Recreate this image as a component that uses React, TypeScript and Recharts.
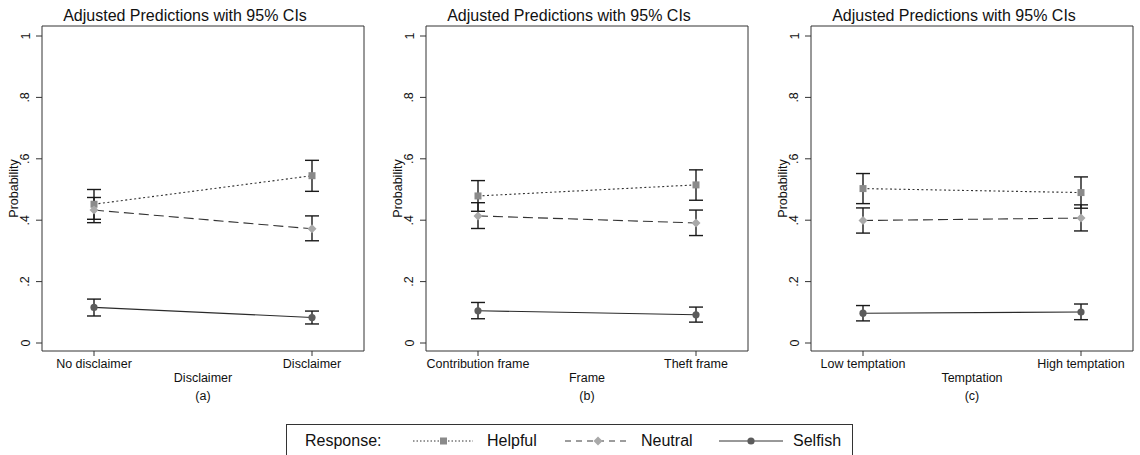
import React from "react";
import { LineChart, Line, XAxis, YAxis, ErrorBar, Label } from "recharts";

// categories per panel
const disclaimerCats = ["No disclaimer", "Disclaimer"];
const frameCats = ["Contribution frame", "Theft frame"];
const temptationCats = ["Low temptation", "High temptation"];

// panel (a): disclaimer
const aHelpful = [0.452, 0.545];
const aHelpfulCI = [[0.403, 0.5], [0.494, 0.595]];
const aNeutral = [0.433, 0.372];
const aNeutralCI = [[0.392, 0.474], [0.333, 0.414]];
const aSelfish = [0.116, 0.083];
const aSelfishCI = [[0.088, 0.143], [0.062, 0.104]];

// panel (b): frame
const bHelpful = [0.479, 0.515];
const bHelpfulCI = [[0.429, 0.529], [0.465, 0.564]];
const bNeutral = [0.414, 0.391];
const bNeutralCI = [[0.373, 0.457], [0.35, 0.433]];
const bSelfish = [0.105, 0.092];
const bSelfishCI = [[0.079, 0.132], [0.068, 0.117]];

// panel (c): temptation
const cHelpful = [0.503, 0.49];
const cHelpfulCI = [[0.454, 0.552], [0.439, 0.541]];
const cNeutral = [0.399, 0.407];
const cNeutralCI = [[0.358, 0.44], [0.365, 0.45]];
const cSelfish = [0.097, 0.101];
const cSelfishCI = [[0.072, 0.122], [0.076, 0.127]];

const yTicks = [0, 0.2, 0.4, 0.6, 0.8, 1];
const yTickLabels = ["0", ".2", ".4", ".6", ".8", "1"];

const FONT = '"Liberation Sans", Arial, Helvetica, sans-serif';
const INK = "#111";
const FRAME = "#333";
const SQ = "#8a8a8a";
const DIA = "#a9a9a9";
const CIRC = "#5c5c5c";

const err = (v: number, ci: number[]) => [v - ci[0], ci[1] - v];

function buildRows(cats: string[], h: number[], hci: number[][], n: number[], nci: number[][], s: number[], sci: number[][]) {
  return cats.map((cat, i) => ({
    cat,
    helpful: h[i],
    helpfulErr: err(h[i], hci[i]),
    neutral: n[i],
    neutralErr: err(n[i], nci[i]),
    selfish: s[i],
    selfishErr: err(s[i], sci[i]),
  }));
}

const SquareDot = (p: any) => (
  <rect key={`sq-${p.index}`} x={p.cx - 3.5} y={p.cy - 3.5} width={7} height={7} fill={SQ} />
);
const DiamondDot = (p: any) => (
  <path
    key={`di-${p.index}`}
    d={`M${p.cx},${p.cy - 4.5}L${p.cx + 4.5},${p.cy}L${p.cx},${p.cy + 4.5}L${p.cx - 4.5},${p.cy}Z`}
    fill={DIA}
  />
);
const CircleDot = (p: any) => <circle key={`ci-${p.index}`} cx={p.cx} cy={p.cy} r={3.6} fill={CIRC} />;

// rotated y tick labels, baseline sits a fixed distance left of the axis
function RotTick({ y, payload }: any) {
  const label = yTickLabels[yTicks.indexOf(payload.value)] ?? String(payload.value);
  const bx = 29.5;
  return (
    <text x={bx} y={y} transform={`rotate(-90 ${bx} ${y})`} textAnchor="middle" fontSize={12.5} fill={INK} fontFamily={FONT}>
      {label}
    </text>
  );
}

function Panel({ rows, xLabel, tag }: { rows: any[]; xLabel: string; tag: string }) {
  return (
    <LineChart width={380} height={410} data={rows} margin={{ top: 25, right: 15, bottom: 27, left: 0 }} style={{ fontFamily: FONT }}>
      <XAxis
        dataKey="cat"
        padding={{ left: 52, right: 52 }}
        height={32}
        tickSize={5}
        tickMargin={3}
        tick={{ fontSize: 12.5, fill: INK }}
        tickLine={{ stroke: FRAME }}
        axisLine={{ stroke: FRAME }}
      >
        <Label value={xLabel} position="insideBottom" offset={1} fontSize={12.5} fill={INK} />
        <Label value={tag} position="bottom" offset={8.5} fontSize={12.5} fill={INK} />
      </XAxis>
      <XAxis xAxisId="top" orientation="top" height={1} tick={false} tickLine={false} axisLine={{ stroke: FRAME }}>
        <Label value="Adjusted Predictions with 95% CIs" position="top" offset={4.3} dx={-18} fontSize={16} fill={INK} />
      </XAxis>
      <YAxis
        domain={[0, 1]}
        ticks={yTicks}
        padding={{ top: 10, bottom: 8 }}
        width={42}
        tickSize={6}
        tick={<RotTick />}
        tickLine={{ stroke: FRAME }}
        axisLine={{ stroke: FRAME }}
      >
        <Label value="Probability" angle={-90} position="center" dx={-7} fontSize={12.5} fill={INK} />
      </YAxis>
      <YAxis yAxisId="right" orientation="right" width={1} tick={false} tickLine={false} axisLine={{ stroke: FRAME }} />
      <Line
        dataKey="helpful"
        stroke="#333"
        strokeWidth={1.1}
        strokeDasharray="2 2.5"
        dot={SquareDot}
        activeDot={false}
        isAnimationActive={false}
      >
        <ErrorBar dataKey="helpfulErr" width={7} stroke="#1a1a1a" strokeWidth={1.4} isAnimationActive={false} />
      </Line>
      <Line
        dataKey="neutral"
        stroke="#333"
        strokeWidth={1.1}
        strokeDasharray="10 5"
        dot={DiamondDot}
        activeDot={false}
        isAnimationActive={false}
      >
        <ErrorBar dataKey="neutralErr" width={7} stroke="#1a1a1a" strokeWidth={1.4} isAnimationActive={false} />
      </Line>
      <Line dataKey="selfish" stroke="#2a2a2a" strokeWidth={1.1} dot={CircleDot} activeDot={false} isAnimationActive={false}>
        <ErrorBar dataKey="selfishErr" width={7} stroke="#1a1a1a" strokeWidth={1.4} isAnimationActive={false} />
      </Line>
    </LineChart>
  );
}

function LegendBox() {
  return (
    <svg width={568} height={31} style={{ position: "absolute", left: 286, top: 424, fontFamily: FONT }}>
      <rect x={0.5} y={0.5} width={566} height={40} fill="none" stroke={FRAME} strokeWidth={1} />
      <text x={19} y={22} fontSize={16} fill={INK}>Response:</text>
      <line x1={127} x2={187} y1={17} y2={17} stroke="#333" strokeDasharray="1.5 2" />
      <rect x={154} y={13.5} width={7} height={7} fill={SQ} />
      <text x={201} y={22} fontSize={16} fill={INK}>Helpful</text>
      <line x1={279} x2={345} y1={17} y2={17} stroke="#3a3a3a" strokeDasharray="6 5" />
      <path d="M312,12.5L316.5,17L312,21.5L307.5,17Z" fill={DIA} />
      <text x={355} y={22} fontSize={16} fill={INK}>Neutral</text>
      <line x1={433} x2={497} y1={17} y2={17} stroke="#333" />
      <circle cx={465} cy={17} r={3.6} fill={CIRC} />
      <text x={507} y={22} fontSize={16} fill={INK}>Selfish</text>
    </svg>
  );
}

export default function App() {
  const rowsA = buildRows(disclaimerCats, aHelpful, aHelpfulCI, aNeutral, aNeutralCI, aSelfish, aSelfishCI);
  const rowsB = buildRows(frameCats, bHelpful, bHelpfulCI, bNeutral, bNeutralCI, bSelfish, bSelfishCI);
  const rowsC = buildRows(temptationCats, cHelpful, cHelpfulCI, cNeutral, cNeutralCI, cSelfish, cSelfishCI);
  return (
    <div style={{ position: "absolute", left: 0, top: 0, width: 1140, height: 455, background: "#fff", overflow: "hidden", fontFamily: FONT }}>
      <div style={{ position: "absolute", left: 0, top: 0 }}>
        <Panel rows={rowsA} xLabel="Disclaimer" tag="(a)" />
      </div>
      <div style={{ position: "absolute", left: 384, top: 0 }}>
        <Panel rows={rowsB} xLabel="Frame" tag="(b)" />
      </div>
      <div style={{ position: "absolute", left: 769, top: 0 }}>
        <Panel rows={rowsC} xLabel="Temptation" tag="(c)" />
      </div>
      <LegendBox />
    </div>
  );
}
